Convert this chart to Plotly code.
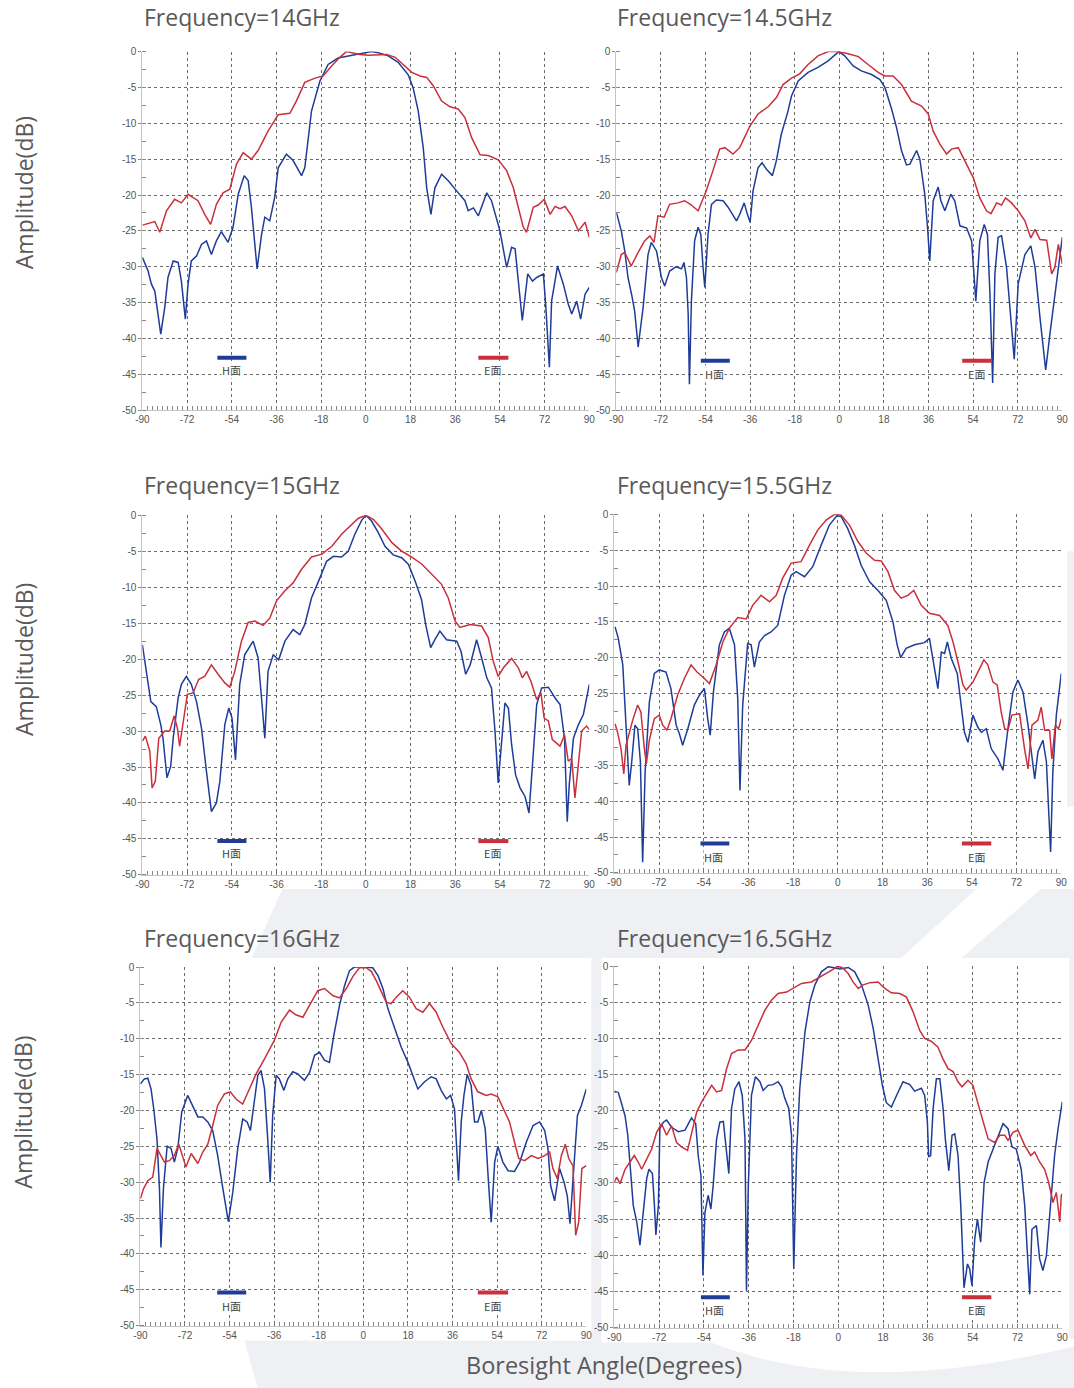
import plotly.graph_objects as go

W, H = 1074, 1388
# calibration of the captured picture: picture = A + S * page pixel
S_X, A_X = 0.988, 5.6
S_Y, A_Y = 0.9905, 5.5

ANGLE_TICKS = [-90, -72, -54, -36, -18, 0, 18, 36, 54, 72, 90]
DB_TICKS = [0, -5, -10, -15, -20, -25, -30, -35, -40, -45, -50]
FREQ_LABELS = ["Frequency=14GHz", "Frequency=14.5GHz", "Frequency=15GHz",
               "Frequency=15.5GHz", "Frequency=16GHz", "Frequency=16.5GHz"]
SERIES_NAMES = ["H面", "E面"]

# ---------------- data: (angle deg, amplitude dB) ----------------
H_14 = [(-90,-28.7),(-87.7,-30.6),(-86.4,-32.4),(-85,-33.4),(-82.6,-39.4),(-81,-35.7),(-79.7,-31.5),(-77.6,-29.2),(-75.6,-29.4),(-74.3,-32),(-72.7,-37.3),(-71.6,-32.4),(-70.3,-29.2),(-68.2,-28.5),(-66.2,-26.9),(-64.2,-26.4),(-62.2,-28.3),(-60.2,-26.4),(-58.2,-25.1),(-55.5,-26.6),(-53.5,-24.5),(-51.4,-19.9),(-49,-17.3),(-47.4,-18),(-46.1,-21.7),(-43.8,-30.3),(-42,-25.5),(-40.7,-23.1),(-38.7,-23.6),(-36.7,-20.3),(-35.3,-16.2),(-32,-14.3),(-29.3,-15.2),(-25.9,-17.3),(-24.6,-16.2),(-21.9,-8.3),(-18.5,-4.1),(-15.2,-1.8),(-11.2,-0.9),(-5.8,-0.5),(-0.4,-0.15),(2.3,0),(5,-0.15),(9,-0.6),(13,-1.5),(17,-3.2),(19,-5),(21.1,-8.3),(23.1,-13.4),(24.5,-19),(26.2,-22.7),(27.8,-19),(30.5,-17.1),(33.2,-18),(37.2,-19.7),(39.9,-20.8),(41.2,-22.2),(43.3,-21.8),(45.3,-22.9),(48.7,-19.7),(50.6,-20.8),(54,-25),(56.7,-30.1),(58.7,-27.3),(60.1,-27.5),(61.7,-32.9),(63,-37.5),(65.2,-31),(67.1,-32),(68.8,-31.5),(71.5,-31),(72.5,-35.7),(73.9,-44),(74.8,-34.8),(77.2,-29.9),(79.5,-32.4),(81.5,-35.2),(82.9,-36.6),(84.9,-34.8),(86.5,-37.3),(88.3,-33.8),(90,-32.9)]
E_14 = [(-90,-24.2),(-85,-23.7),(-83,-25.2),(-80.3,-22.2),(-77,-20.6),(-74.3,-21.1),(-71.6,-19.9),(-67.6,-20.8),(-64.9,-22.7),(-62.5,-24.1),(-60.2,-21.3),(-57.5,-19.7),(-54.8,-19.2),(-52.1,-15.7),(-49.4,-14.1),(-46.1,-15),(-43.4,-13.8),(-39.4,-11.1),(-35.3,-8.8),(-30.6,-8.6),(-28,-6.9),(-24.6,-4.3),(-20.5,-3.7),(-17.2,-3.4),(-13.8,-2),(-10.5,-0.8),(-7.8,0),(-5.8,-0.15),(-2.5,-0.4),(0.9,-0.5),(5,-0.5),(8.4,-0.4),(11.8,-0.8),(15.1,-1.8),(18.5,-2.9),(21.8,-3.4),(24.5,-3.6),(27.2,-4.8),(30.5,-6.9),(33.9,-7.7),(37.2,-8),(39.9,-9.2),(42.6,-12),(46,-14.4),(49.3,-14.5),(53.3,-15.1),(56.7,-16.6),(59.4,-19),(61.4,-21.7),(63.4,-24.5),(64.7,-25.2),(67.4,-21.7),(69.4,-21.4),(71.8,-20.6),(74.2,-22.7),(76.2,-21.6),(78.2,-21.9),(80.2,-21.6),(82.9,-22.9),(85.6,-25),(88.3,-23.8),(90,-25.9)]

H_145 = [(-90,-22.4),(-88,-25),(-86.6,-27.8),(-85.3,-31.5),(-83.7,-34.1),(-82.6,-36.2),(-81.2,-41.2),(-79.2,-35.7),(-77.2,-28.3),(-75.9,-26.6),(-73.8,-27.8),(-71.8,-31.5),(-70.5,-32.7),(-68.5,-30.6),(-65.8,-30),(-63.7,-30.3),(-62.7,-29.4),(-61.7,-31.5),(-61,-36.6),(-60.5,-46.4),(-59.7,-34.8),(-58.4,-26.4),(-57,-24.5),(-55.9,-25.5),(-55,-30.1),(-54.3,-32.9),(-53,-25.5),(-51.6,-21.3),(-49.6,-20.7),(-46.9,-20.8),(-44.9,-21.7),(-41.5,-23.6),(-40.2,-22.7),(-38.4,-21.1),(-37.1,-22.7),(-36,-23.8),(-34.8,-19.4),(-32.8,-16.2),(-31.2,-15.5),(-29.4,-16.4),(-27,-17.3),(-25.4,-15.2),(-23.4,-11.5),(-20.7,-8.3),(-19.3,-6.2),(-16.6,-4.1),(-12.6,-2.9),(-8.6,-2.2),(-4.5,-1.3),(-1.8,-0.5),(-0.2,0),(2.2,-0.6),(5.6,-2),(8.9,-2.7),(13,-3.2),(16.4,-3.9),(18.4,-5),(21.1,-8),(23.1,-10.6),(25.1,-13.8),(27.1,-15.8),(28.5,-15.7),(31.2,-13.8),(32.5,-15),(34.5,-19.9),(35.6,-24.5),(36.5,-29.2),(37.9,-20.8),(39.9,-18.9),(41,-20.8),(42.6,-22.2),(45,-19.9),(46.6,-20.8),(48.7,-24.3),(51.4,-24.6),(53.4,-26.4),(54.4,-31.5),(55.1,-34.8),(56.7,-26.4),(58.5,-24.1),(59.8,-25.5),(60.8,-33.8),(61.9,-46.2),(62.8,-31),(64.1,-25.9),(65.5,-25.7),(67.5,-30.1),(69.5,-38.5),(70.6,-42.9),(72.2,-32.4),(74.9,-28.3),(77.3,-27.1),(79,-30.1),(81,-37.1),(83.3,-44.4),(85,-39.4),(87,-33.8),(88.4,-29.6),(90,-25.9)]
E_145 = [(-90,-30.8),(-88,-28.3),(-86.6,-28),(-84,-29.9),(-81.2,-28),(-78.6,-26.4),(-76.5,-25.7),(-74.8,-26.6),(-73.2,-22.9),(-70.7,-23.1),(-68.5,-21.3),(-65.1,-21.1),(-62.4,-20.8),(-59.7,-21.4),(-57,-22.2),(-53.7,-19.4),(-51,-16.6),(-48.3,-13.6),(-46.2,-13.4),(-42.9,-14.3),(-40.2,-13.4),(-36.1,-10.4),(-32.8,-8.7),(-28.7,-7.7),(-25.4,-6.4),(-22.7,-4.6),(-19.3,-3.7),(-16,-3.1),(-12.6,-1.8),(-8.6,-0.6),(-4.5,0),(-0.5,0),(3.6,-0.3),(7.7,-0.7),(11.6,-1.8),(15.7,-2.9),(18.4,-3.4),(21.7,-3.4),(25.1,-4.6),(29.1,-6.9),(33.2,-7.6),(35.9,-8.7),(37.9,-11.1),(40.6,-12.9),(43.3,-14.3),(45.3,-13.6),(48,-13.4),(50.7,-15.2),(54.1,-17.6),(56.7,-20.4),(59.4,-22.2),(61.2,-22.6),(63.5,-21.1),(65.5,-21.4),(67.1,-20.4),(69.5,-21.1),(72.2,-22.2),(74.9,-23.6),(77.3,-26),(79,-24.8),(81,-26.2),(83.7,-26.3),(85.7,-31),(87,-30.1),(88.4,-26.9),(90,-29.6)]

H_15 = [(-90,-18),(-88.4,-21.7),(-86.6,-25.9),(-84.4,-26.6),(-82.6,-29.1),(-81.7,-31),(-80.1,-36.5),(-78.6,-34.9),(-77.6,-31),(-75.6,-25.4),(-74.3,-23.5),(-72.3,-22.4),(-70.3,-23.5),(-68.2,-25.9),(-66.2,-29.6),(-64.2,-35.6),(-62.2,-41.2),(-60.2,-40),(-58.8,-37),(-56.8,-29.1),(-55.2,-26.8),(-53.9,-28.2),(-52.5,-34),(-50.8,-23.5),(-48.8,-19.4),(-45.4,-17.5),(-43.4,-19.8),(-41.8,-26.3),(-40.7,-31),(-39.4,-21.7),(-37.3,-19.4),(-35.1,-20.1),(-32.6,-17.5),(-29.3,-15.9),(-26.6,-16.6),(-24.6,-15.2),(-21.9,-11.5),(-18.5,-8.7),(-15.8,-6.4),(-13.1,-5.7),(-9.8,-5.8),(-7.1,-5),(-4.4,-2.6),(-1.7,-0.7),(0,0),(2.3,-0.8),(5,-2.4),(7.7,-4.3),(11,-5.5),(14.4,-5.9),(17.1,-6.8),(19.8,-9.1),(22.4,-11.7),(24.1,-15.2),(26.1,-18.4),(27.8,-17.3),(29.8,-16.1),(32.5,-17.3),(36.6,-17.5),(38.3,-18.9),(40.2,-22.1),(42,-20.8),(44.6,-17.3),(46.6,-19.8),(48.7,-22.6),(50.6,-24),(52,-30),(53.3,-37.2),(54.7,-31.9),(56,-26.1),(57.4,-26.8),(58.7,-31.9),(60.3,-36.1),(62.1,-37.9),(64.1,-39.1),(65.7,-41.4),(67.1,-34.7),(68.8,-26.3),(70.8,-24),(73.5,-23.9),(76.2,-25.4),(78.2,-26.3),(80,-31),(81.1,-42.6),(81.9,-37.5),(83.6,-31),(85.6,-29.1),(87.6,-27.7),(90,-23.5)]
E_15 = [(-90,-31.4),(-88.8,-30.7),(-87,-32.8),(-86.1,-37.9),(-84.8,-37),(-83.4,-31),(-81,-30),(-79,-30),(-77.2,-27.9),(-75.9,-29.6),(-75,-32.1),(-73.6,-29.1),(-71.9,-24.9),(-69.6,-24.7),(-67.3,-22.8),(-64.9,-22.4),(-62.2,-20.8),(-59.5,-22.1),(-56.8,-23.3),(-54.8,-23.9),(-52.8,-21.7),(-50.1,-17.5),(-47.4,-14.9),(-44.7,-14.7),(-41.4,-15.3),(-38.7,-14.3),(-36,-11.9),(-32.6,-10.5),(-29.3,-9.4),(-25.9,-7.5),(-21.9,-5.8),(-17.7,-5.4),(-13.7,-4.3),(-9.7,-2.6),(-6.3,-1.5),(-3,-0.4),(0,0),(3.1,-0.6),(6.4,-1.9),(10.5,-3.8),(14.5,-5),(18.5,-5.8),(22.6,-6.8),(26.6,-8.2),(30.5,-9.6),(33.2,-11.5),(35.9,-14.7),(37.9,-15.6),(42,-15.2),(46.6,-15.4),(49.3,-17),(51.3,-20.3),(53.3,-22.4),(55.4,-21.2),(58.7,-19.9),(61.4,-21.2),(63,-22.6),(64.7,-21.7),(66.5,-23.1),(68.8,-25.6),(70.5,-24.7),(71.8,-28.2),(73.5,-28.6),(75.1,-31.2),(76.8,-31.7),(78.2,-32.1),(80,-30.5),(81.5,-34.2),(82.9,-33.8),(84.2,-39.3),(85.3,-35.6),(86.9,-30),(88.9,-29.3),(90,-29.8)]

H_155 = [(-89.7,-15.7),(-88.4,-17.3),(-86.6,-21),(-85.3,-30.4),(-84,-37.8),(-83,-34.5),(-81.7,-29.4),(-80.6,-29.9),(-79.5,-34.5),(-78.6,-48.5),(-77.6,-35.9),(-75.9,-26.2),(-73.9,-22.2),(-71.9,-21.7),(-69.2,-22),(-67.2,-24.3),(-65.1,-29.4),(-63.8,-30.6),(-62.5,-32.2),(-60.4,-29.9),(-57.8,-26.6),(-55.7,-25.2),(-53.7,-24.3),(-52.4,-28.5),(-51.4,-30.8),(-50.1,-24.8),(-47.7,-18.2),(-45.7,-16.4),(-43.7,-15.9),(-41.6,-18.2),(-40.3,-25.7),(-39.4,-38.5),(-38.3,-26.6),(-36.3,-18),(-34.9,-18.2),(-33.6,-21.3),(-31.6,-17.8),(-29.5,-16.9),(-26.9,-16.4),(-24.2,-15.5),(-21.5,-11.3),(-18.8,-8.5),(-16.8,-8),(-13.4,-8.7),(-10.1,-7.3),(-6.7,-4.3),(-3.4,-1.5),(-0.4,-0.2),(1.3,-0.3),(4,-2),(6.7,-4.3),(9.4,-7.1),(12.8,-9.4),(16.1,-10.6),(19.5,-12),(22.2,-15),(23.9,-18.2),(25.3,-20),(27.5,-18.7),(30.9,-18.2),(34.9,-17.9),(36.9,-17.3),(38.3,-20.1),(40.3,-24.3),(41.7,-19.2),(43,-19.4),(44.1,-17.8),(45.7,-20.1),(48.1,-22.2),(49.7,-26.6),(51,-30.4),(52.4,-31.8),(54.4,-28),(56.4,-29.7),(57.8,-30.4),(59.8,-29.9),(61.8,-32.7),(64.5,-34.1),(66.5,-35.7),(68.5,-29.9),(70.5,-24.8),(72.5,-23.1),(74.6,-24.8),(76.6,-29.4),(79.3,-36.9),(80.6,-33.1),(82.6,-31.5),(84,-34.5),(84.9,-41.1),(85.7,-47.1),(86.6,-35.9),(88,-28),(90,-22.2)]
E_155 = [(-89.7,-29.2),(-88.7,-30.4),(-87.3,-32.7),(-86.2,-36.2),(-85.3,-32.2),(-84,-30.4),(-82.6,-28.7),(-80.6,-26.6),(-79.3,-27.6),(-77.9,-32.7),(-77.1,-34.8),(-75.9,-31.5),(-73.9,-28.5),(-71.9,-28),(-70.5,-29.4),(-68.8,-30.1),(-67.2,-28.5),(-64.5,-25.2),(-61.8,-22.9),(-59.1,-21),(-56.7,-22),(-53.7,-22.9),(-51.7,-23.6),(-49,-21),(-46.3,-17.8),(-43.7,-15.9),(-40.3,-14.4),(-36.9,-14.6),(-34.3,-12.7),(-30.9,-11.3),(-27.5,-12.2),(-24.8,-11.3),(-22.2,-8.9),(-18.8,-6.8),(-14.8,-6.6),(-11.4,-4.3),(-8.1,-2.2),(-4.7,-0.8),(-1.3,0),(1.3,-0.1),(4.7,-1.5),(8.1,-3.8),(11.4,-5.4),(14.8,-6.4),(17.5,-6.5),(20.2,-8),(22.8,-10.6),(25.5,-11.7),(28.2,-11.3),(30.6,-10.6),(33.6,-12.7),(36.9,-13.8),(41,-14.1),(44.3,-15.5),(46.4,-17.8),(48.4,-20.6),(50.4,-23.8),(51.7,-24.5),(54.4,-23.4),(56.4,-22),(58.8,-20.3),(60.4,-21),(62.5,-23.4),(64.2,-23.8),(65.8,-27.6),(67.2,-29.9),(68.5,-30.1),(70.1,-28),(73.2,-27.8),(75.2,-32.7),(76.6,-35.5),(78.2,-29.4),(80.6,-28.7),(81.9,-26.9),(83.3,-30.1),(85.3,-30.1),(86.2,-34.1),(87.6,-29.4),(88.9,-29.9),(90,-28.5)]

H_16 = [(-90,-16.3),(-88.4,-15.6),(-87,-15.5),(-85.7,-17),(-84.6,-19.8),(-83.3,-24),(-82.3,-30.9),(-81.7,-39.1),(-80.7,-30.9),(-79.2,-25),(-77.6,-25.3),(-76.3,-27.2),(-74.9,-25.3),(-73.3,-20.2),(-70.9,-17.9),(-68.9,-19.3),(-66.8,-20.9),(-64.8,-20.9),(-62.8,-21.6),(-60.8,-22.8),(-58.8,-26.3),(-56.7,-30.9),(-54.5,-35.5),(-52.7,-31.4),(-50.7,-25.3),(-48.7,-21.2),(-46.9,-21.6),(-45.6,-22.8),(-44,-18.4),(-42.6,-15.1),(-41.3,-14.4),(-39.9,-17),(-38.6,-24),(-37.6,-30),(-36.6,-20.7),(-35.2,-15.1),(-33.9,-15.6),(-32.1,-17.2),(-30.5,-15.6),(-28.5,-14.6),(-26.5,-14.9),(-23.8,-15.8),(-21.7,-14.7),(-19.7,-12.3),(-17.7,-11.9),(-15.7,-13),(-13.7,-13.3),(-11.9,-9.5),(-9.6,-5.3),(-7.6,-2.6),(-5.6,-0.5),(-3.6,0),(0.4,0),(3.8,-0.1),(5.9,-1.2),(7.9,-3),(9.9,-5.8),(12.6,-8.6),(15.3,-11.2),(18,-13.3),(20,-15.3),(22,-17),(24.7,-16),(27.4,-15.3),(29.4,-15.6),(31.4,-17.2),(33.5,-18.4),(35.2,-17.9),(36.8,-19.8),(38.4,-29.8),(39.5,-21.6),(40.6,-17.9),(41.9,-15),(43.5,-16.5),(44.9,-21.6),(46.2,-21.6),(47.6,-20),(49.2,-22.6),(50.5,-30),(51.6,-35.6),(53,-27.2),(54.3,-25),(56.3,-27.2),(58.4,-28.4),(61,-28.5),(63.1,-27.2),(65.8,-24.4),(68.5,-22.1),(71.1,-21.6),(73.2,-22.8),(74.5,-25.3),(75.6,-30.5),(77.2,-32.6),(79.2,-28.1),(81,-30),(82.3,-31.9),(83.4,-35.8),(84.6,-30),(86.4,-20.7),(88,-19.3),(90,-17)]
E_16 = [(-90,-32.3),(-88.7,-30.9),(-87,-29.8),(-85,-29.3),(-83.3,-25.3),(-81.7,-26.3),(-80.3,-27.2),(-78.3,-27),(-76.3,-26.3),(-74.5,-24.7),(-72.9,-26.5),(-71.6,-27.9),(-69.5,-26),(-68.2,-26.7),(-66.8,-27.4),(-64.8,-25.8),(-62.8,-24.7),(-60.8,-22.1),(-58.8,-19.3),(-56.1,-17.7),(-53.7,-17.4),(-51.4,-18.4),(-48.7,-19.1),(-46,-17),(-43.3,-14.9),(-39.9,-12.8),(-35.9,-10.2),(-33.2,-7.7),(-29.8,-6),(-27.1,-6.7),(-24.4,-7),(-21.7,-5.3),(-18.4,-3.3),(-15.7,-3),(-12.2,-4),(-9.6,-4.3),(-6.9,-3),(-4.2,-1.3),(-1.6,-0.1),(1.1,-0.1),(3.2,-0.6),(5.2,-1.9),(7.2,-3.5),(9.2,-4.9),(11.2,-5.1),(13.3,-4.2),(15.9,-3.3),(18.6,-4.2),(21.3,-5.8),(24,-6.3),(26.7,-5.1),(29.4,-6.3),(32.1,-8.4),(35.5,-10.7),(38.8,-11.9),(41.5,-13.5),(43.5,-15.6),(46.2,-17.4),(49.6,-17.9),(51.6,-17.7),(54.3,-18.1),(56.3,-19.5),(59,-21.6),(61,-24.4),(62.7,-26.7),(65.1,-27),(67.8,-26.3),(70.5,-26.7),(73.2,-26.3),(75.2,-25.8),(76.5,-28.1),(78.3,-29.5),(79.9,-26.3),(81.5,-24.7),(82.9,-26.7),(84.6,-27.7),(85.7,-37.4),(86.9,-35.6),(88.2,-28.1),(90,-27.7)]

H_165 = [(-90,-17.3),(-88.4,-17.5),(-87.1,-19),(-85.7,-20.7),(-84.6,-23.4),(-83.7,-27.6),(-82.4,-33.1),(-81,-35.4),(-79.7,-38.6),(-78.4,-34.1),(-77,-29.4),(-76.1,-28.1),(-74.7,-28.7),(-73.9,-33.1),(-73.3,-37.2),(-72.3,-33.1),(-71.7,-22.5),(-70.3,-21.6),(-69,-21.3),(-67,-22.3),(-64.3,-22.9),(-61.6,-22.7),(-59,-21),(-57.3,-21.8),(-56.3,-26.2),(-55.2,-29),(-54.4,-42.8),(-53.6,-34.1),(-52.3,-31.7),(-51.2,-33.6),(-50.3,-30.4),(-48.9,-23.9),(-47.6,-21.6),(-46.2,-21.5),(-44.9,-26.2),(-44,-28.7),(-42.9,-19.7),(-41.6,-17),(-39.9,-16),(-38.6,-17.9),(-37.5,-23.9),(-36.9,-44.9),(-36.2,-30.8),(-35.5,-22.5),(-34.9,-17.9),(-33.3,-15.3),(-31.5,-16),(-30.2,-17.2),(-28.2,-16.5),(-26.2,-16.4),(-24.2,-16),(-22.8,-16.7),(-21.5,-18.3),(-19.9,-19.7),(-18.8,-23.4),(-17.9,-41.9),(-16.8,-26.2),(-15.5,-17),(-13.4,-9.1),(-11.4,-4.9),(-9.4,-2.6),(-6.8,-0.8),(-4.1,-0.1),(-2.1,-0.2),(0.6,-0.4),(4,-0.2),(6.6,-0.8),(9.3,-2.6),(12,-5.4),(14,-8.6),(16,-12.8),(17.7,-16.5),(19.3,-18.9),(21.3,-19.5),(23.4,-17.9),(26,-16),(28.7,-16.4),(30.7,-17.3),(33.4,-16.9),(34.7,-17.9),(35.8,-21.6),(36.3,-26.4),(37.1,-26.2),(38.1,-19.7),(39.4,-15.6),(40.8,-15.6),(42.1,-19.7),(43,-23.9),(44.4,-28.3),(45.7,-23.4),(46.8,-23.2),(48.1,-26.2),(49.2,-33.1),(50.5,-44.5),(51.9,-41.2),(52.8,-41.9),(53.7,-44.2),(54.8,-37.8),(55.9,-35),(57.2,-38.2),(58.6,-29.9),(60.2,-27.1),(62.2,-25.3),(64.2,-23.4),(66.2,-21.8),(68.2,-22.5),(69.8,-25),(71.5,-25.3),(73.5,-28.1),(74.9,-33.1),(76.9,-45.4),(77.8,-36.4),(79.6,-35.9),(80.9,-40.5),(82.2,-42.1),(83.6,-40.1),(84.9,-34.5),(86.9,-26.2),(88.3,-22.5),(90,-18.8)]
E_165 = [(-90,-29.9),(-89.1,-29.2),(-87.7,-30.1),(-85.7,-28.1),(-83.7,-27.1),(-82,-26.2),(-80.4,-27.1),(-79,-28.1),(-77,-26.7),(-75,-25.3),(-73,-23),(-71,-21.8),(-69,-23.4),(-67,-22.1),(-65,-24.4),(-63,-25),(-60.6,-25.5),(-59,-23),(-56.9,-20.2),(-54.9,-18.8),(-52.9,-17.7),(-50.9,-16.5),(-48.9,-17.4),(-46.9,-17.2),(-44.9,-14.2),(-42.9,-12.1),(-40.2,-11.6),(-37.5,-11.6),(-34.9,-10.3),(-32.2,-8.2),(-29.5,-6.1),(-26.8,-4.7),(-24.2,-3.8),(-20.8,-3.6),(-18.1,-3.1),(-14.8,-2.4),(-10.8,-2.2),(-8.1,-1.7),(-5.5,-1.2),(-2.8,-0.6),(-0.1,0),(1.9,-0.3),(3.9,-1),(5.9,-2.2),(8,-3.1),(10,-2.6),(12.7,-2.3),(16,-2.2),(18.7,-3.1),(21.3,-3.7),(24.7,-3.8),(27.4,-4.3),(30,-6.3),(32.7,-8.9),(34.7,-10),(37.3,-10.4),(40,-11.2),(42,-12.8),(44.1,-14.2),(46.1,-14.6),(48.1,-16),(49.7,-16.7),(52.1,-15.8),(54.1,-16.5),(56.1,-19),(58.2,-21.6),(60.2,-23.9),(62.8,-24.4),(64.9,-23.4),(66.9,-23.4),(68.2,-24.1),(70.2,-23),(72.2,-22.7),(74.9,-24.8),(77.3,-26.2),(78.9,-25.7),(80.9,-27.1),(82.9,-28.1),(84.5,-29.9),(86.3,-32.7),(87.6,-31.3),(89,-35.4),(89.6,-31.7),(90,-31.5)]

CURVES = [(H_14, E_14), (H_145, E_145), (H_15, E_15),
          (H_155, E_155), (H_16, E_16), (H_165, E_165)]

# ---------------- layout geometry (target picture pixels) ----------------
PANEL_BOX = [  # x0, x1, y_top, y_bottom of plotting area
    (141, 588, 51, 409), (615, 1061, 51, 409),
    (141, 588, 514, 873), (613, 1060, 513, 871),
    (139, 585, 965, 1323), (613, 1061, 964, 1325),
]
TITLE_POS = [(141, 16), (614, 16), (141, 484), (614, 484), (141, 936), (614, 936)]
# legend mark positions in data units: (bar x0, bar x1, bar y, label x, label y)
LEG_H = [(-59.8, -48.1, -42.7, -54.0, -44.4), (-55.9, -44.2, -43.1, -50.3, -44.9),
         (-59.8, -48.1, -45.3, -54.1, -47.0), (-55.3, -43.7, -45.9, -50.0, -47.8),
         (-59.0, -47.3, -45.4, -53.4, -47.2), (-55.2, -43.6, -45.8, -49.9, -47.5)]
LEG_E = [(45.3, 57.4, -42.7, 51.1, -44.4), (49.6, 61.5, -43.1, 55.4, -44.9),
         (45.3, 57.4, -45.3, 51.1, -47.0), (50.0, 61.8, -45.9, 55.8, -47.8),
         (46.2, 58.4, -45.4, 52.0, -47.2), (49.7, 61.5, -45.8, 55.6, -47.5)]

BLUE = "#1f3d98"
RED = "#c9303c"
TEXT = "#595959"
TICKFONT = dict(family="Liberation Sans Narrow, Liberation Sans, Arial", size=10, color="#555555")


def px(x):
    return ((x - A_X) / S_X) / W


def py(y):
    return 1 - ((y - A_Y) / S_Y) / H


fig = go.Figure()
shapes = []
annotations = []

# background watermark (light grey swoosh)
GREY = "#eef0f4"
shapes.append(dict(type="path", xref="paper", yref="paper", layer="below", line=dict(width=0),
                   fillcolor=GREY,
                   path=f"M {px(281)} {py(887)} L {px(1080)} {py(887)} L {px(1080)} {py(1395)} "
                        f"L {px(259)} {py(1395)} L {px(243)} {py(1338)} L {px(247)} {py(963)} Z"))
shapes.append(dict(type="path", xref="paper", yref="paper", layer="below", line=dict(width=0),
                   fillcolor="white",
                   path=f"M {px(975)} {py(887)} L {px(1040)} {py(887)} L {px(960)} {py(956)} "
                        f"L {px(900)} {py(956)} Z"))
shapes.append(dict(type="path", xref="paper", yref="paper", layer="below", line=dict(width=0),
                   fillcolor="white",
                   path=f"M {px(700)} {py(1336)} Q {px(850)} {py(1400)} {px(1080)} {py(1342)} "
                        f"L {px(1080)} {py(1336)} Z"))
shapes.append(dict(type="rect", xref="paper", yref="paper", layer="below", line=dict(width=0),
                   fillcolor=GREY, x0=px(1066), x1=px(1080), y0=py(805), y1=py(550)))
for (bx0, bx1, by0, by1) in [(127, 590, 956, 1338), (600, 1068, 956, 1340)]:
    shapes.append(dict(type="rect", xref="paper", yref="paper", layer="below", line=dict(width=0),
                       fillcolor="white", x0=px(bx0), x1=px(bx1), y0=py(by1), y1=py(by0)))

layout_axes = {}
for i, (hc, ec) in enumerate(CURVES):
    n = "" if i == 0 else str(i + 1)
    xa, ya = "x" + n, "y" + n
    x0, x1, yt, yb = PANEL_BOX[i]

    for curve, color, name in ((hc, BLUE, SERIES_NAMES[0]), (ec, RED, SERIES_NAMES[1])):
        fig.add_trace(go.Scatter(
            x=[a for a, _ in curve], y=[v for _, v in curve], mode="lines", name=name,
            line=dict(color=color, width=1.5), xaxis=xa, yaxis=ya,
            showlegend=False, hoverinfo="skip"))

    layout_axes["xaxis" + n] = dict(
        domain=[px(x0), px(x1)], anchor=ya, range=[-90, 90],
        tickmode="array", tickvals=ANGLE_TICKS, ticktext=[str(t) for t in ANGLE_TICKS],
        showgrid=True, gridcolor="#6a6a6a", griddash="dot", gridwidth=1,
        zeroline=False, showline=True, linecolor="#c4c4c4", linewidth=1,
        ticks="inside", ticklen=4, tickcolor="#777777", tickfont=TICKFONT,
        minor=dict(tickmode="linear", tick0=-90, dtick=2, ticks="inside", ticklen=4,
                   tickcolor="#888888", showgrid=False),
        fixedrange=True)
    layout_axes["yaxis" + n] = dict(
        domain=[py(yb), py(yt)], anchor=xa, range=[-50, 0],
        tickmode="array", tickvals=DB_TICKS, ticktext=[str(t) for t in DB_TICKS],
        showgrid=True, gridcolor="#6a6a6a", griddash="dot", gridwidth=1,
        zeroline=False, showline=True, linecolor="#c4c4c4", linewidth=1,
        ticks="outside", ticklen=3, tickcolor="#888888", tickfont=TICKFONT,
        minor=dict(tickmode="linear", tick0=0, dtick=2.5, ticks="inside", ticklen=4,
                   tickcolor="#888888", showgrid=False),
        fixedrange=True)

    # frequency title
    tx, ty = TITLE_POS[i]
    annotations.append(dict(text=FREQ_LABELS[i], xref="paper", yref="paper",
                            x=px(tx), y=py(ty), xanchor="left", yanchor="middle",
                            showarrow=False, font=dict(family="Open Sans", size=23, color=TEXT)))

    # legend marks
    for (lx0, lx1, ly, tx_, ty_), color, label in ((LEG_H[i], BLUE, SERIES_NAMES[0]),
                                                    (LEG_E[i], RED, SERIES_NAMES[1])):
        shapes.append(dict(type="line", xref=xa, yref=ya, x0=lx0, x1=lx1, y0=ly, y1=ly,
                           line=dict(color=color, width=4)))
        annotations.append(dict(text=label, xref=xa, yref=ya, x=tx_, y=ty_,
                                showarrow=False, bgcolor="white", borderpad=0,
                                font=dict(family="Noto Sans CJK SC", size=11, color="#444444")))

# axis titles
for yc in (192, 658, 1110):
    annotations.append(dict(text="Amplitude(dB)", xref="paper", yref="paper",
                            x=px(22), y=py(yc), textangle=-90, showarrow=False,
                            xanchor="center", yanchor="middle",
                            font=dict(family="Open Sans", size=23, color=TEXT)))
annotations.append(dict(text="Boresight Angle(Degrees)", xref="paper", yref="paper",
                        x=px(603), y=0, showarrow=False,
                        xanchor="center", yanchor="bottom",
                        font=dict(family="Open Sans", size=23.5, color=TEXT)))

fig.update_layout(
    width=W, height=H, autosize=False,
    margin=dict(l=0, r=0, t=0, b=0),
    paper_bgcolor="white", plot_bgcolor="white",
    showlegend=False,
    shapes=shapes, annotations=annotations,
    **layout_axes,
)

# the page body has a default 8px margin; remove it so the figure fills the window
fig.write_html("out.html",
               config={"displayModeBar": False, "staticPlot": True},
               post_script="document.body.style.margin='0px';")
